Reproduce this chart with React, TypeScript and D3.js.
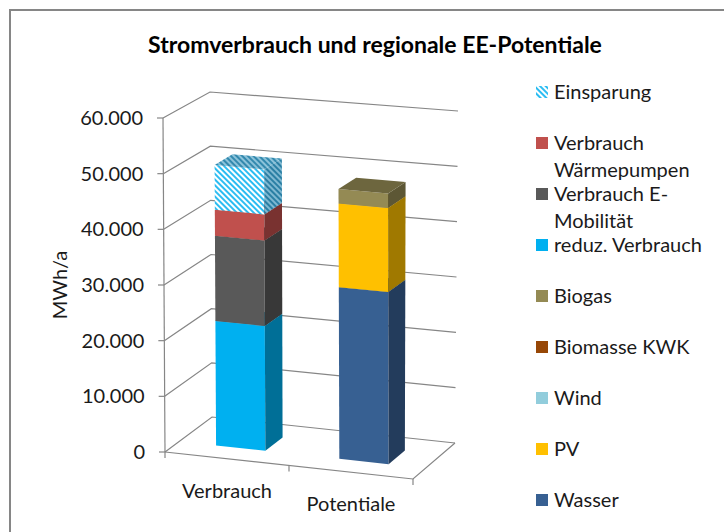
import React, { useEffect, useRef } from 'react';
import * as d3 from 'd3';

const categories = ['Verbrauch', 'Potentiale'];

// stacking order, bottom -> top (legend shows it reversed)
const seriesNames = ['Wasser', 'PV', 'Wind', 'Biomasse KWK', 'Biogas', 'reduz. Verbrauch', 'Verbrauch E-Mobilität', 'Verbrauch Wärmepumpen', 'Einsparung'];
const wasser = [0, 30800];
const pv = [0, 15000];
const wind = [0, 0];
const biomasseKwk = [0, 0];
const biogas = [0, 2600];
const reduzVerbrauch = [22500, 0];
const eMobilitaet = [15400, 0];
const waermepumpen = [4700, 0];
const einsparung = [8100, 0];

const seriesColors = ['#376092', '#FFC000', '#92CDDC', '#974706', '#948A54', '#00B0F0', '#595959', '#C0504D', 'hatch'];

const legendLines = [
  ['Einsparung'],
  ['Verbrauch', 'Wärmepumpen'],
  ['Verbrauch E-', 'Mobilität'],
  ['reduz. Verbrauch'],
  ['Biogas'],
  ['Biomasse KWK'],
  ['Wind'],
  ['PV'],
  ['Wasser'],
];

const yTicks = [0, 10000, 20000, 30000, 40000, 50000, 60000];

const FONT = 'Lato, "Open Sans", sans-serif';
const GRID = '#868686';

// screen corners of the 3d plot box (front/back, bottom/top, left/right)
const frame = {
  fbl: [165, 452], fbr: [413, 479], bbl: [212, 417], bbr: [455, 443],
  ftl: [163, 118], ftr: [411, 141], btl: [210, 92], btr: [458, 111],
};

const lerp = (a: number[], b: number[], t: number) => [a[0] + (b[0] - a[0]) * t, a[1] + (b[1] - a[1]) * t];

// x, h, z all in 0..1
const project = (x: number, h: number, z: number) => {
  const bottom = lerp(lerp(frame.fbl, frame.fbr, x), lerp(frame.bbl, frame.bbr, x), z);
  const top = lerp(lerp(frame.ftl, frame.ftr, x), lerp(frame.btl, frame.btr, x), z);
  return lerp(bottom, top, h);
};

const App = () => {
  const svgRef = useRef<SVGSVGElement>(null);

  useEffect(() => {
    const svg = d3.select(svgRef.current);
    svg.selectAll('*').remove();

    const de = d3.formatLocale({ decimal: ',', thousands: '.', grouping: [3], currency: ['', ' €'] });
    const fmt = de.format(',');

    const yScale = d3.scaleLinear().domain([0, 60000]).range([0, 1]);
    const xScale = d3.scaleBand().domain(categories).range([0, 1]).paddingInner(0.6).paddingOuter(0.3);
    const zFront = 0.3;
    const zBack = 0.68;

    const values = [wasser, pv, wind, biomasseKwk, biogas, reduzVerbrauch, eMobilitaet, waermepumpen, einsparung];
    const rows = categories.map((c, i) => {
      const r: any = { cat: c };
      seriesNames.forEach((s, j) => { r[s] = values[j][i]; });
      return r;
    });
    const stacked = d3.stack().keys(seriesNames)(rows);

    // hatch patterns for Einsparung
    const defs = svg.append('defs');
    const hatch = (id: string, bg: string, fg: string) => {
      const p = defs.append('pattern')
        .attr('id', id)
        .attr('patternUnits', 'userSpaceOnUse')
        .attr('width', 4).attr('height', 4)
        .attr('patternTransform', 'rotate(-45)');
      p.append('rect').attr('width', 4).attr('height', 4).attr('fill', bg);
      p.append('rect').attr('width', 2).attr('height', 4).attr('fill', fg);
    };
    hatch('hatchFront', '#ffffff', '#2cbdf2');
    hatch('hatchSide', '#7fb9d2', '#2a7fa4');
    hatch('hatchTop', '#8cc3da', '#3389ae');

    // chart area border
    svg.append('rect')
      .attr('x', 10).attr('y', 10)
      .attr('width', 760).attr('height', 560)
      .attr('fill', '#fff')
      .attr('stroke', GRID)
      .attr('stroke-width', 2);

    svg.append('text')
      .attr('x', 375).attr('y', 53)
      .attr('text-anchor', 'middle')
      .attr('font-family', FONT)
      .attr('font-weight', 'bold')
      .attr('font-size', 23)
      .attr('fill', '#000')
      .text('Stromverbrauch und regionale EE-Potentiale');

    const line = d3.line();
    const g = svg.append('g');

    // gridlines on left and back wall
    yTicks.forEach(t => {
      const h = yScale(t);
      g.append('path')
        .attr('d', line([project(0, h, 0), project(0, h, 1), project(1, h, 1)] as any))
        .attr('fill', 'none')
        .attr('stroke', GRID)
        .attr('stroke-width', 1.2);
    });

    // floor front + right edges
    g.append('path')
      .attr('d', line([project(0, 0, 0), project(1, 0, 0), project(1, 0, 1)] as any))
      .attr('fill', 'none')
      .attr('stroke', GRID)
      .attr('stroke-width', 1.2);

    // value axis
    g.append('path')
      .attr('d', line([project(0, 0, 0), project(0, 1, 0)] as any))
      .attr('stroke', GRID)
      .attr('stroke-width', 1.2);

    yTicks.forEach(t => {
      const p = project(0, yScale(t), 0);
      g.append('line')
        .attr('x1', p[0] - 6).attr('x2', p[0])
        .attr('y1', p[1]).attr('y2', p[1])
        .attr('stroke', GRID)
        .attr('stroke-width', 1.2);
      g.append('text')
        .attr('x', p[0] - 20).attr('y', p[1] + 7)
        .attr('text-anchor', 'end')
        .attr('font-family', FONT)
        .attr('font-size', 20)
        .attr('fill', '#1a1a1a')
        .text(fmt(t));
    });

    // category axis ticks
    [0, 0.5, 1].forEach(x => {
      const p = project(x, 0, 0);
      g.append('line')
        .attr('x1', p[0]).attr('x2', p[0])
        .attr('y1', p[1]).attr('y2', p[1] + 6)
        .attr('stroke', GRID)
        .attr('stroke-width', 1.2);
    });

    categories.forEach(c => {
      const p = project(xScale(c)! + xScale.bandwidth() / 2, 0, 0);
      g.append('text')
        .attr('x', p[0]).attr('y', p[1] + 39)
        .attr('text-anchor', 'middle')
        .attr('font-family', FONT)
        .attr('font-size', 20)
        .attr('fill', '#1a1a1a')
        .text(c);
    });

    svg.append('text')
      .attr('transform', 'translate(67,285) rotate(-90)')
      .attr('text-anchor', 'middle')
      .attr('font-family', FONT)
      .attr('font-size', 20)
      .attr('fill', '#1a1a1a')
      .text('MWh/a');

    // bars
    const bars = svg.append('g');
    categories.forEach((c, ci) => {
      const x0 = xScale(c)!;
      const x1 = x0 + xScale.bandwidth();
      stacked.forEach((layer, si) => {
        const [v0, v1] = layer[ci];
        if (v1 - v0 <= 0) return;
        const h0 = yScale(v0);
        const h1 = yScale(v1);
        const col = seriesColors[si];
        let front: string, side: string, top: string;
        if (col === 'hatch') {
          front = 'url(#hatchFront)';
          side = 'url(#hatchSide)';
          top = 'url(#hatchTop)';
        } else {
          front = col;
          side = d3.color(col)!.darker(1.3).formatHex();
          top = d3.color(col)!.darker(0.85).formatHex();
        }
        const poly = (pts: number[][]) => line(pts as any) + 'Z';
        bars.append('path')
          .attr('d', poly([project(x0, h0, zFront), project(x1, h0, zFront), project(x1, h1, zFront), project(x0, h1, zFront)]))
          .attr('fill', front);
        bars.append('path')
          .attr('d', poly([project(x1, h0, zFront), project(x1, h0, zBack), project(x1, h1, zBack), project(x1, h1, zFront)]))
          .attr('fill', side);
        bars.append('path')
          .attr('d', poly([project(x0, h1, zFront), project(x1, h1, zFront), project(x1, h1, zBack), project(x0, h1, zBack)]))
          .attr('fill', top);
      });
    });

    // legend (reverse of stacking order)
    const legend = svg.append('g');
    const legendY = d3.scaleLinear().domain([0, 8]).range([99, 507]);
    const revColors = seriesColors.slice().reverse();
    legendLines.forEach((lines, i) => {
      const y = legendY(i);
      const col = revColors[i];
      legend.append('rect')
        .attr('x', 536).attr('y', y - 13)
        .attr('width', 12).attr('height', 12)
        .attr('fill', col === 'hatch' ? 'url(#hatchFront)' : col);
      lines.forEach((txt, k) => {
        legend.append('text')
          .attr('x', 554).attr('y', y + k * 27)
          .attr('font-family', FONT)
          .attr('font-size', 20)
          .attr('fill', '#1a1a1a')
          .text(txt);
      });
    });
  }, []);

  return (
    <svg ref={svgRef} width={724} height={532} style={{ position: 'absolute', left: 0, top: 0, background: '#fff' }}></svg>
  );
};

export default App;
